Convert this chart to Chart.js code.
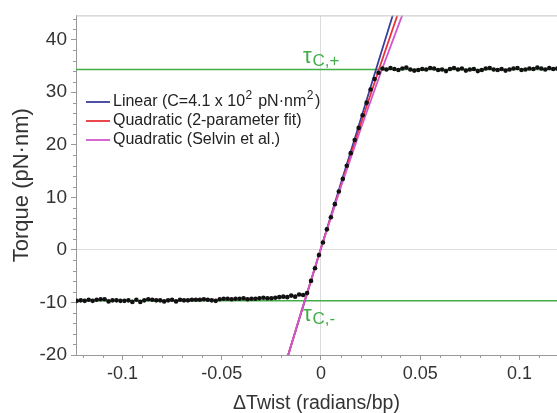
<!DOCTYPE html>
<html>
<head>
<meta charset="utf-8">
<script src="https://cdn.jsdelivr.net/npm/chart.js@4.4.1/dist/chart.umd.min.js"></script>
<style>
  html, body { margin: 0; padding: 0; background: #fff; }
  #wrap { width: 557px; height: 413px; }
</style>
</head>
<body>
<div id="wrap"><canvas id="chart" width="557" height="413"></canvas></div>
<script>
const lowX = [-0.123,-0.121,-0.119,-0.117,-0.115,-0.113,-0.111,-0.109,-0.107,-0.105,
  -0.103,-0.101,-0.099,-0.097,-0.095,-0.093,-0.091,-0.089,-0.087,-0.085,
  -0.083,-0.081,-0.079,-0.077,-0.075,-0.073,-0.071,-0.069,-0.067,-0.065,
  -0.063,-0.061,-0.059,-0.057,-0.055,-0.053,-0.051,-0.049,-0.047,-0.045,
  -0.043,-0.041,-0.039,-0.037,-0.035,-0.033,-0.031,-0.029,-0.027,-0.025,
  -0.023,-0.021,-0.019,-0.017,-0.015,-0.013,-0.011,-0.009];
const lowY = [-9.7,-9.6,-9.7,-9.5,-9.7,-9.5,-9.4,-9.4,-9.8,-9.6,
  -9.6,-9.7,-9.7,-9.6,-9.9,-9.5,-9.9,-9.6,-9.4,-9.5,
  -9.6,-9.6,-9.8,-9.6,-9.5,-9.8,-9.5,-9.6,-9.6,-9.5,
  -9.5,-9.5,-9.4,-9.5,-9.6,-9.7,-9.4,-9.3,-9.3,-9.4,
  -9.3,-9.3,-9.2,-9.4,-9.3,-9.3,-9.2,-9.1,-9.2,-9.2,
  -9.1,-9.0,-8.9,-9.0,-8.7,-8.9,-8.5,-8.6];
const rampX = [-0.007,-0.005,-0.003,-0.001,0.001,0.003,0.005,0.007,0.009,0.011,
  0.013,0.015,0.017,0.019,0.021,0.023,0.025,0.027,0.029];
const rampY = [-8.2,-5.9,-3.5,-1.0,1.4,3.9,6.2,8.7,11.1,13.5,
  16.0,18.4,20.9,23.2,25.6,28.0,30.5,32.5,33.7];
const highX = [0.031,0.033,0.035,0.037,0.039,0.041,0.043,0.045,0.047,0.049,
  0.051,0.053,0.055,0.057,0.059,0.061,0.063,0.065,0.067,0.069,
  0.071,0.073,0.075,0.077,0.079,0.081,0.083,0.085,0.087,0.089,
  0.091,0.093,0.095,0.097,0.099,0.101,0.103,0.105,0.107,0.109,
  0.111,0.113,0.115,0.117,0.119];
const highY = [34.5,34.3,34.6,34.4,34.2,34.5,34.7,34.3,34.1,34.2,
  34.4,34.3,34.6,34.5,34.2,34.3,34.0,34.4,34.6,34.3,
  34.5,34.1,34.3,34.4,34.0,34.2,34.5,34.6,34.3,34.2,
  34.4,34.1,34.3,34.5,34.6,34.2,34.3,34.5,34.4,34.7,
  34.5,34.3,34.6,34.4,34.5];

// fit curves
const fitX = [-0.018,-0.01,0,0.01,0.02,0.03,0.04,0.043];
const linearY = [-21.8,-12.0,0.3,12.6,24.8,37.1,49.3,53.0];
const quad2Y = [-21.9,-11.9,0.3,12.2,23.9,35.2,46.3,49.5];
const selvinY = [-21.9,-11.8,0.3,11.9,23.0,33.6,43.7,46.6];

// critical torques
const tauPlus = 34.3;
const tauMinus = -9.7;

const xTicks = [-0.1, -0.05, 0, 0.05, 0.1];
const yTicks = [-20, -10, 0, 10, 20, 30, 40];

const legendItems = [
  { color: '#3a3f9a', parts: [['Linear (C=4.1 x 10', 0], ['2', 1], [' pN\u00b7nm', 0], ['2', 1], [')', 0]] },
  { color: '#e8333b', parts: [['Quadratic (2-parameter fit)', 0]] },
  { color: '#d257cf', parts: [['Quadratic (Selvin et al.)', 0]] },
];

const GREEN = '#43ad48';
const FONT = '"Liberation Sans", Arial, Helvetica, sans-serif';

const pts = (xs, ys) => xs.map((x, i) => ({ x, y: ys[i] }));
const hline = (v) => [{ x: -0.2, y: v }, { x: 0.2, y: v }];

const extras = {
  id: 'extras',
  afterDraw(chart) {
    const { ctx, chartArea: a, scales: { x, y } } = chart;
    ctx.save();
    // top frame line
    ctx.strokeStyle = '#c4c4c4';
    ctx.lineWidth = 1;
    ctx.beginPath();
    ctx.moveTo(a.left, a.top + 0.5);
    ctx.lineTo(a.right, a.top + 0.5);
    ctx.stroke();
    // minor ticks
    ctx.strokeStyle = '#999';
    ctx.beginPath();
    for (let v = -20; v <= 44; v += 2) {
      if (v % 10 === 0) continue;
      const py = Math.round(y.getPixelForValue(v)) + 0.5;
      ctx.moveTo(a.left - 3, py);
      ctx.lineTo(a.left, py);
    }
    for (let k = -12; k <= 11; k++) {
      if (k % 5 === 0) continue;
      const px = Math.round(x.getPixelForValue(k / 100)) + 0.5;
      ctx.moveTo(px, a.bottom);
      ctx.lineTo(px, a.bottom + 3);
    }
    ctx.stroke();

    // tau labels
    const tx = x.getPixelForValue(-0.0091);
    const drawTau = (baseY, sub) => {
      ctx.fillStyle = GREEN;
      ctx.textBaseline = 'alphabetic';
      ctx.font = '22px ' + FONT;
      ctx.fillText('\u03c4', tx, baseY);
      const w = ctx.measureText('\u03c4').width;
      ctx.font = '17px ' + FONT;
      ctx.fillText(sub, tx + w + 1, baseY + 3);
    };
    drawTau(y.getPixelForValue(tauPlus) - 7, 'C,+');
    drawTau(y.getPixelForValue(tauMinus) + 20, 'C,-');

    // legend
    let ly = 102;
    legendItems.forEach(item => {
      ctx.strokeStyle = item.color;
      ctx.lineWidth = 1.8;
      ctx.beginPath();
      ctx.moveTo(86, ly);
      ctx.lineTo(110, ly);
      ctx.stroke();
      let lx = 113;
      ctx.fillStyle = '#222';
      item.parts.forEach(([txt, sup]) => {
        ctx.font = (sup ? '12px ' : '16px ') + FONT;
        ctx.textBaseline = 'middle';
        if (sup) lx += 0.5;
        ctx.fillText(txt, lx, sup ? ly - 6 : ly);
        lx += ctx.measureText(txt).width + (sup ? 1.5 : 0);
      });
      ly += 19;
    });
    ctx.restore();
  }
};

new Chart(document.getElementById('chart'), {
  type: 'scatter',
  data: {
    datasets: [
      { label: 'data', data: [...pts(lowX, lowY), ...pts(rampX, rampY), ...pts(highX, highY)],
        backgroundColor: '#111', borderColor: '#111', pointRadius: 2.3, borderWidth: 0 },
      { label: 'Selvin', data: pts(fitX, selvinY), showLine: true, borderColor: '#d257cf',
        borderWidth: 1.8, pointRadius: 0 },
      { label: 'Quadratic', data: pts(fitX, quad2Y), showLine: true, borderColor: '#e8333b',
        borderWidth: 1.8, pointRadius: 0 },
      { label: 'Linear', data: pts(fitX, linearY), showLine: true, borderColor: '#3a3f9a',
        borderWidth: 1.8, pointRadius: 0 },
      { label: 'tauPlus', data: hline(tauPlus), showLine: true, borderColor: GREEN,
        borderWidth: 1.5, pointRadius: 0 },
      { label: 'tauMinus', data: hline(tauMinus), showLine: true, borderColor: GREEN,
        borderWidth: 1.5, pointRadius: 0 },
    ],
  },
  options: {
    responsive: false,
    animation: false,
    devicePixelRatio: 1,
    layout: { autoPadding: false, padding: { top: 15, right: 0, left: 0, bottom: 0 } },
    plugins: { legend: { display: false }, tooltip: { enabled: false } },
    scales: {
      x: {
        type: 'linear', min: -0.1234, max: 0.1189,
        afterBuildTicks: s => { s.ticks = xTicks.map(v => ({ value: v })); },
        afterFit: s => { s.height = 58; s.paddingLeft = 0; s.paddingRight = 0; },
        ticks: { color: '#333', font: { size: 18, family: FONT }, padding: 3,
          maxRotation: 0, autoSkip: false, callback: v => String(v) },
        grid: { color: c => (c.tick && c.tick.value === 0 ? '#dcdcdc' : 'rgba(0,0,0,0)'),
          tickColor: '#999', tickLength: 5, lineWidth: 1 },
        border: { color: '#999', width: 1 },
        title: { display: true, text: '\u0394Twist (radians/bp)', color: '#333',
          font: { size: 19.5, family: FONT, lineHeight: 1 }, padding: { top: 0, bottom: 0 } },
      },
      y: {
        type: 'linear', min: -20, max: 44.6,
        afterBuildTicks: s => { s.ticks = yTicks.map(v => ({ value: v })); },
        afterFit: s => { s.width = 76; },
        ticks: { color: '#333', font: { size: 19, family: FONT }, padding: 4,
          autoSkip: false, callback: v => String(v) },
        grid: { color: c => (c.tick && c.tick.value === 0 ? '#dcdcdc' : 'rgba(0,0,0,0)'),
          tickColor: '#999', tickLength: 5, lineWidth: 1 },
        border: { color: '#999', width: 1 },
        title: { display: true, text: 'Torque (pN\u00b7nm)', color: '#333',
          font: { size: 22, family: FONT, lineHeight: 1 }, padding: { top: 11, bottom: 0 } },
      },
    },
  },
  plugins: [extras],
});
</script>
</body>
</html>
